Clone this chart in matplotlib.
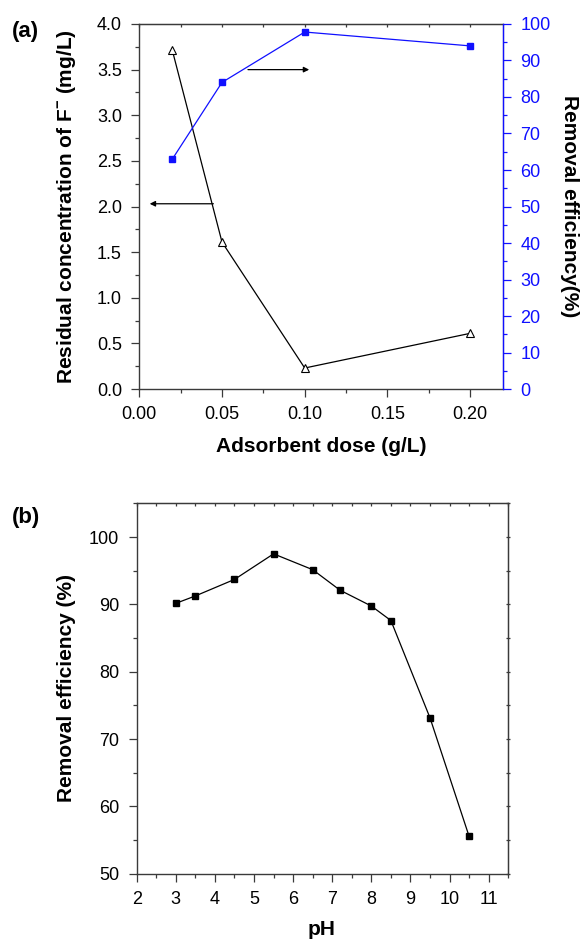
import matplotlib
matplotlib.use("Agg")
import matplotlib.pyplot as plt
from matplotlib.ticker import MultipleLocator

plt.rcParams['font.family'] = ['Liberation Sans', 'DejaVu Sans']
plt.rcParams['mathtext.fontset'] = 'custom'
plt.rcParams['mathtext.rm'] = 'Liberation Sans'
plt.rcParams['mathtext.bf'] = 'Liberation Sans:bold'

# (a) effect of adsorbent dose
dose = [0.02, 0.05, 0.10, 0.20]
residual_f = [3.71, 1.61, 0.23, 0.61]
dose_efficiency = [63.0, 84.0, 97.8, 94.0]

# (b) effect of pH
ph = [3.0, 3.5, 4.5, 5.5, 6.5, 7.2, 8.0, 8.5, 9.5, 10.5]
ph_efficiency = [90.15, 91.25, 93.7, 97.5, 95.15, 92.1, 89.75, 87.6, 73.15, 55.55]

BLUE = '#1010ff'
SPINE = '#3a3a3a'
TICK_FS = 13
LABEL_FS = 15
PANEL_FS = 16
PAD = 7

W, H = 582, 941
fig = plt.figure(figsize=(W / 100, H / 100), dpi=100)


def fx(px):
    return px / W


def fy(py):
    return 1 - py / H


# ---------------- panel (a) ----------------
ax1 = fig.add_axes([0.2393, 0.5866, 0.6254, 0.3879])
ax1.plot(dose, residual_f, color='black', lw=0.9, marker='^', ms=6,
         mfc='white', mec='black', mew=0.8, zorder=3)
ax1.set_xlim(0, 0.22)
ax1.set_ylim(0, 4.0)
ax1.xaxis.set_major_locator(MultipleLocator(0.05))
ax1.xaxis.set_minor_locator(MultipleLocator(0.025))
ax1.yaxis.set_major_locator(MultipleLocator(0.5))
ax1.yaxis.set_minor_locator(MultipleLocator(0.25))
ax1.xaxis.set_major_formatter(plt.FuncFormatter(lambda v, p: f"{v:.2f}"))
ax1.yaxis.set_major_formatter(plt.FuncFormatter(lambda v, p: f"{v:.1f}"))
ax1.tick_params(axis='both', which='major', direction='out', length=5.5,
                width=0.9, labelsize=TICK_FS, color=SPINE, pad=PAD)
ax1.tick_params(axis='both', which='minor', direction='out', length=3,
                width=0.9, color=SPINE)
ax1.tick_params(axis='y', which='both', right=False)
for s in ['left', 'bottom', 'top']:
    ax1.spines[s].set_color(SPINE)
    ax1.spines[s].set_linewidth(1.0)

# short ticks along the top edge
top = ax1.secondary_xaxis('top')
top.xaxis.set_major_locator(MultipleLocator(0.025))
top.xaxis.set_minor_locator(plt.NullLocator())
top.tick_params(which='major', direction='in', length=2.5, width=0.9,
                color=SPINE, labeltop=False)
top.spines['top'].set_color(SPINE)

ax2 = ax1.twinx()
ax2.plot(dose, dose_efficiency, color=BLUE, lw=0.9, marker='s', ms=5,
         mfc=BLUE, mec=BLUE, zorder=3)
ax2.set_ylim(0, 100)
ax2.yaxis.set_major_locator(MultipleLocator(10))
ax2.yaxis.set_minor_locator(MultipleLocator(5))
ax2.tick_params(axis='y', which='major', direction='out', length=5.5, width=0.9,
                colors=BLUE, labelsize=TICK_FS, pad=PAD)
ax2.tick_params(axis='y', which='minor', direction='out', length=3, width=0.9,
                colors=BLUE)
ax2.spines['right'].set_color(BLUE)
ax2.spines['right'].set_linewidth(1.0)
for s in ['left', 'bottom', 'top']:
    ax2.spines[s].set_visible(False)

# arrows pointing to each axis
ax1.annotate('', xy=(0.0063, 2.03), xytext=(0.0448, 2.03),
             arrowprops=dict(arrowstyle='-|>', color='black', lw=0.9,
                             mutation_scale=8, shrinkA=0, shrinkB=0))
ax1.annotate('', xy=(0.1027, 3.5), xytext=(0.0657, 3.5),
             arrowprops=dict(arrowstyle='-|>', color='black', lw=0.9,
                             mutation_scale=8, shrinkA=0, shrinkB=0))

fig.text(fx(321), fy(452.5), 'Adsorbent dose (g/L)', fontsize=LABEL_FS,
         fontweight='bold', ha='center', va='baseline')
fig.text(fx(67), fy(206.5), r'Residual concentration of F$^{\mathbf{-}}$ (mg/L)',
         fontsize=LABEL_FS, fontweight='bold', rotation=90,
         ha='center', va='center')
fig.text(fx(569), fy(206.5), 'Removal efficiency(%)', fontsize=LABEL_FS,
         fontweight='bold', rotation=270, ha='center', va='center')
fig.text(fx(12), fy(31), '(a)', fontsize=PANEL_FS, fontweight='bold',
         ha='left', va='center')

# ---------------- panel (b) ----------------
ax3 = fig.add_axes([0.2349, 0.0715, 0.6383, 0.3936])
ax3.plot(ph, ph_efficiency, color='black', lw=0.9, marker='s', ms=5,
         mfc='black', mec='black', zorder=3)
ax3.set_xlim(2, 11.5)
ax3.set_ylim(50, 105)
ax3.xaxis.set_major_locator(MultipleLocator(1))
ax3.xaxis.set_minor_locator(MultipleLocator(0.5))
ax3.yaxis.set_major_locator(MultipleLocator(10))
ax3.yaxis.set_minor_locator(MultipleLocator(5))
ax3.tick_params(axis='both', which='major', direction='out', length=5.5,
                width=0.9, labelsize=TICK_FS, color=SPINE, pad=PAD)
ax3.tick_params(axis='both', which='minor', direction='out', length=3,
                width=0.9, color=SPINE)
for s in ax3.spines.values():
    s.set_color(SPINE)
    s.set_linewidth(1.0)

top3 = ax3.secondary_xaxis('top')
top3.xaxis.set_major_locator(MultipleLocator(0.5))
top3.xaxis.set_minor_locator(plt.NullLocator())
top3.tick_params(which='major', direction='in', length=2.5, width=0.9,
                 color=SPINE, labeltop=False)
right3 = ax3.secondary_yaxis('right')
right3.yaxis.set_major_locator(MultipleLocator(5))
right3.yaxis.set_minor_locator(plt.NullLocator())
right3.tick_params(which='major', direction='inout', length=3, width=0.9,
                   color=SPINE, labelright=False)
for s in list(top3.spines.values()) + list(right3.spines.values()):
    s.set_color(SPINE)

fig.text(fx(322), fy(935), 'pH', fontsize=LABEL_FS, fontweight='bold',
         ha='center', va='baseline')
fig.text(fx(67), fy(688.5), 'Removal efficiency (%)', fontsize=LABEL_FS,
         fontweight='bold', rotation=90, ha='center', va='center')
fig.text(fx(12), fy(517), '(b)', fontsize=PANEL_FS, fontweight='bold',
         ha='left', va='center')

fig.savefig('out.png', dpi=100)
